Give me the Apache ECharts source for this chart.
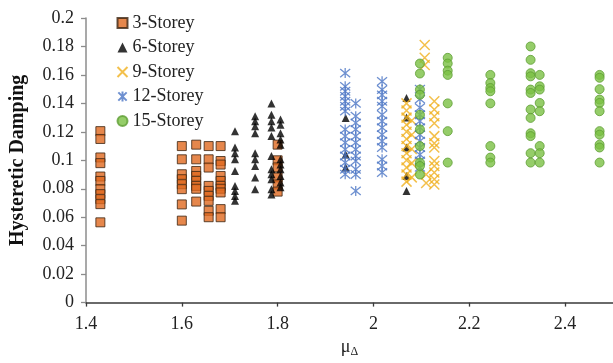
<!DOCTYPE html>
<html>
<head>
<meta charset="utf-8">
<script src="https://cdn.jsdelivr.net/npm/echarts@6/dist/echarts.min.js"></script>
<style>html,body{margin:0;padding:0;background:#fff}#c{width:613px;height:363px}</style>
</head>
<body>
<div id="c"></div>
<script>
// Tick settings
const xTicks = [1.4, 1.6, 1.8, 2, 2.2, 2.4];
const yTicks = [0, 0.02, 0.04, 0.06, 0.08, 0.1, 0.12, 0.14, 0.16, 0.18, 0.2];
const seriesNames = ['3-Storey', '6-Storey', '9-Storey', '12-Storey', '15-Storey'];

// 3-Storey: column x positions and y values per column
const storey3X = [1.43, 1.6, 1.63, 1.656, 1.681, 1.8];
const storey3Y = [
  [0.1205, 0.115, 0.102, 0.098, 0.0886, 0.0855, 0.0797, 0.0762, 0.0727, 0.0692, 0.0564],
  [0.110, 0.1007, 0.0902, 0.0867, 0.0832, 0.0797, 0.069, 0.0576],
  [0.111, 0.1007, 0.0925, 0.089, 0.0855, 0.082, 0.08, 0.071],
  [0.110, 0.1007, 0.0949, 0.082, 0.0785, 0.075, 0.0715, 0.0645, 0.06],
  [0.11, 0.0995, 0.097, 0.089, 0.0855, 0.082, 0.08, 0.0774, 0.0657, 0.06],
  [0.111, 0.1, 0.095, 0.088, 0.083, 0.078]
];
// 6-Storey
const storey6X = [1.711, 1.753, 1.787, 1.806, 1.942, 2.069];
const storey6Y = [
  [0.1205, 0.109, 0.105, 0.1007, 0.0925, 0.082, 0.0785, 0.075, 0.0715],
  [0.131, 0.1275, 0.124, 0.119, 0.105, 0.1007, 0.096, 0.088, 0.0797],
  [0.140, 0.132, 0.1275, 0.123, 0.117, 0.103, 0.0937, 0.0902, 0.0867, 0.0797, 0.076],
  [0.1287, 0.125, 0.119, 0.1147, 0.111, 0.1007, 0.097, 0.0937, 0.089, 0.0844, 0.081],
  [0.1298, 0.104, 0.0949],
  [0.1438, 0.13, 0.109, 0.089, 0.0785]
];
// 9-Storey
const storey9X = [2.069, 2.08, 2.107, 2.11, 2.127];
const storey9Y = [
  [0.14, 0.135, 0.13, 0.125, 0.12, 0.115, 0.11, 0.105, 0.1, 0.095, 0.09, 0.085],
  [0.128, 0.118, 0.108, 0.098, 0.088],
  [0.181, 0.172, 0.167],
  [0.09, 0.084],
  [0.1415, 0.1357, 0.131, 0.126, 0.117, 0.112, 0.109, 0.0995, 0.096, 0.0914, 0.0867, 0.083]
];
// 12-Storey
const storey12X = [1.941, 1.963, 2.018, 2.097];
const storey12Y = [
  [0.1613, 0.152, 0.1485, 0.145, 0.1415, 0.138, 0.1345, 0.1217, 0.117, 0.1124, 0.1077, 0.103, 0.0984, 0.0937, 0.0902],
  [0.14, 0.131, 0.1263, 0.1217, 0.117, 0.1124, 0.1077, 0.103, 0.0995, 0.0937, 0.09, 0.0785],
  [0.1555, 0.1497, 0.146, 0.1415, 0.138, 0.132, 0.1275, 0.123, 0.118, 0.1135, 0.109, 0.1007, 0.096, 0.0914],
  [0.15, 0.143, 0.137, 0.132, 0.1275, 0.123, 0.118, 0.1135, 0.109, 0.104, 0.0995, 0.095]
];
// 15-Storey
const storey15X = [2.097, 2.155, 2.244, 2.328, 2.347, 2.472];
const storey15Y = [
  [0.168, 0.161, 0.1497, 0.146, 0.132, 0.1217, 0.110, 0.0984, 0.096, 0.09],
  [0.172, 0.168, 0.163, 0.16, 0.14, 0.1205, 0.0984],
  [0.160, 0.1543, 0.1508, 0.1485, 0.140, 0.110, 0.1019, 0.0984],
  [0.180, 0.1706, 0.1612, 0.159, 0.1497, 0.1473, 0.1357, 0.1298, 0.119, 0.117, 0.105, 0.0984],
  [0.160, 0.152, 0.1497, 0.1403, 0.1345, 0.110, 0.105, 0.0984],
  [0.160, 0.158, 0.150, 0.1427, 0.1403, 0.1345, 0.1205, 0.118, 0.111, 0.109, 0.0984]
];

function pairs(xs, ys) {
  const out = [];
  xs.forEach((x, i) => ys[i].forEach(y => out.push([x, y])));
  return out;
}

const FONT = '"Liberation Serif", "Times New Roman", serif';
const xPath = 'path://M0,0L10,10M10,0L0,10';
const starPath = 'path://M0,0L10,10M10,0L0,10M5,-1L5,11';

const styles = [
  { symbol: 'rect', symbolSize: 9, itemStyle: { color: '#E0691F', borderColor: '#3b2412', borderWidth: 1 } },
  { symbol: 'triangle', symbolSize: 8, itemStyle: { color: '#000000' } },
  { symbol: xPath, symbolSize: 10, itemStyle: { color: 'none', borderColor: '#F0B01E', borderWidth: 1.5 } },
  { symbol: starPath, symbolSize: 10, itemStyle: { color: 'none', borderColor: '#4A74C4', borderWidth: 1.3 } },
  { symbol: 'circle', symbolSize: 9, itemStyle: { color: '#7AC143', borderColor: '#5E9E33', borderWidth: 1 } }
];
const dataSets = [
  pairs(storey3X, storey3Y),
  pairs(storey6X, storey6Y),
  pairs(storey9X, storey9Y),
  pairs(storey12X, storey12Y),
  pairs(storey15X, storey15Y)
];

const chart = echarts.init(document.getElementById('c'), null, { renderer: 'canvas' });
chart.setOption({
  animation: false,
  backgroundColor: '#fff',
  grid: { left: 81, right: 0, top: 18, bottom: 59, containLabel: false },
  legend: {
    orient: 'vertical',
    left: 110,
    top: 9,
    itemWidth: 10,
    itemHeight: 10,
    itemGap: 6.5,
    textStyle: { fontFamily: FONT, fontSize: 18, color: '#222' },
    data: seriesNames
  },
  xAxis: {
    type: 'value',
    min: xTicks[0],
    max: 2.5,
    interval: 0.2,
    name: '{m|μ}{s|Δ}',
    nameLocation: 'middle',
    nameGap: 33,
    nameTextStyle: {
      fontFamily: FONT, color: '#222',
      rich: {
        m: { fontFamily: FONT, fontSize: 18, color: '#222' },
        s: { fontFamily: FONT, fontSize: 12, color: '#222', padding: [9, 0, 0, 0] }
      }
    },
    axisLine: { lineStyle: { color: '#3a3a3a', width: 1.5 } },
    axisTick: { show: true, length: 4, lineStyle: { color: '#3a3a3a', width: 1.3 } },
    axisLabel: { showMaxLabel: false, fontFamily: FONT, fontSize: 18, color: '#222', margin: 13 },
    splitLine: { show: false }
  },
  yAxis: {
    type: 'value',
    min: yTicks[0],
    max: yTicks[yTicks.length - 1],
    interval: 0.02,
    name: 'Hysteretic Damping',
    nameLocation: 'middle',
    nameGap: 58,
    nameTextStyle: { fontFamily: FONT, fontSize: 20, fontWeight: 'bold', color: '#111' },
    axisLine: { show: true, lineStyle: { color: '#8c8c8c', width: 1.5 } },
    axisTick: { show: true, length: 5, lineStyle: { color: '#8c8c8c', width: 1.3 } },
    axisLabel: { fontFamily: FONT, fontSize: 18, color: '#222', margin: 12 },
    splitLine: { show: false }
  },
  series: seriesNames.map((n, i) => Object.assign({
    name: n,
    type: 'scatter',
    data: dataSets[i],
    z: 2 + i
  }, styles[i]))
});
</script>
</body>
</html>
